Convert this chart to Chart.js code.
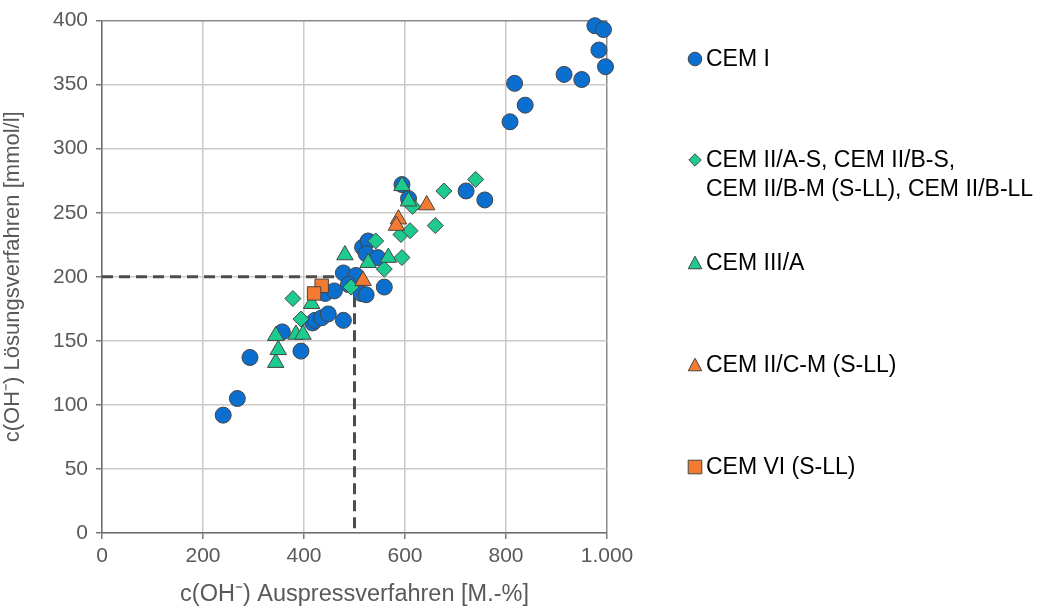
<!DOCTYPE html>
<html>
<head>
<meta charset="utf-8">
<script src="https://cdn.jsdelivr.net/npm/chart.js@4/dist/chart.umd.min.js"></script>
<style>
  html, body { margin: 0; padding: 0; background: #ffffff; }
  #wrap { position: relative; width: 1045px; height: 609px; }
</style>
</head>
<body>
<div id="wrap"><canvas id="c" width="1045" height="609"></canvas></div>
<script>
// Hydroxide concentration: press-extraction method (x) vs. leaching method (y)
const cemI = [
  [240, 92], [268, 105], [293, 137], [357, 157], [394, 142], [417, 164], [422, 166],
  [435, 168], [448, 171], [478, 166], [442, 187], [460, 189], [478, 203], [503, 201],
  [488, 194], [513, 187], [523, 186], [559, 192], [516, 223], [527, 228], [523, 218],
  [546, 215], [594, 272], [607, 261], [721, 267], [758, 260], [808, 321], [817, 351],
  [838, 334], [915, 358], [950, 354], [976, 396], [993, 393], [984, 377], [997, 364]
];
const cemII = [
  [378, 183], [394, 167], [493, 192], [542, 228], [559, 206], [594, 215], [592, 233],
  [610, 236], [615, 255], [660, 240], [677, 267], [740, 276]
];
const cemIII = [
  [344, 133], [349, 143], [344, 154], [384, 155], [398, 155], [415, 179], [481, 217],
  [527, 211], [567, 215], [594, 271], [607, 259]
];
const cemIIC = [[517, 197], [587, 245], [583, 240], [643, 256]];
const cemVI = [[435, 193], [420, 187]];

// Reading example: 500 M.-% corresponds to 200 mmol/l
const guide = [[0, 200], [500, 200], [500, 0]];

const xTicks = [0, 200, 400, 600, 800, 1000];
const yTicks = [0, 50, 100, 150, 200, 250, 300, 350, 400];

const seriesNames = [
  ['CEM I'],
  ['CEM II/A-S, CEM II/B-S,', 'CEM II/B-M (S-LL), CEM II/B-LL'],
  ['CEM III/A'],
  ['CEM II/C-M (S-LL)'],
  ['CEM VI (S-LL)']
];

const BLUE = '#0A6FCF';
const GREEN = '#1ECB8E';
const ORANGE = '#F47A32';
const EDGE = '#454545';
const FONT = "'Liberation Sans', Arial, sans-serif";

const toPts = arr => arr.map(p => ({ x: p[0], y: p[1] }));

const styles = [
  { shape: 'circle', color: BLUE, radius: 8 },
  { shape: 'rectRot', color: GREEN, radius: 8 },
  { shape: 'triangle', color: GREEN, radius: 9.5 },
  { shape: 'triangle', color: ORANGE, radius: 9.5 },
  { shape: 'rect', color: ORANGE, radius: 9.5 }
];
const seriesData = [cemI, cemII, cemIII, cemIIC, cemVI];

const datasets = seriesData.map((d, i) => ({
  label: seriesNames[i].join(' '),
  data: toPts(d),
  showLine: false,
  clip: false,
  pointStyle: styles[i].shape,
  pointRadius: styles[i].radius,
  pointHoverRadius: styles[i].radius,
  backgroundColor: styles[i].color,
  borderColor: EDGE,
  borderWidth: 1,
  order: 5 - i
}));

datasets.push({
  label: 'guide',
  data: toPts(guide),
  showLine: true,
  borderColor: '#4d4d4d',
  borderWidth: 3,
  borderDash: [11, 6],
  pointRadius: 0,
  fill: false,
  order: 10
});

// Legend drawn at the right of the plot, one block per series
const legendRows = [59, 160, 263, 365, 467];
function drawMarker(ctx, shape, x, y, r, color) {
  ctx.save();
  ctx.fillStyle = color;
  ctx.strokeStyle = EDGE;
  ctx.lineWidth = 1;
  ctx.beginPath();
  if (shape === 'circle') {
    ctx.arc(x, y, r, 0, Math.PI * 2);
  } else if (shape === 'rectRot') {
    ctx.moveTo(x, y - r); ctx.lineTo(x + r, y); ctx.lineTo(x, y + r); ctx.lineTo(x - r, y);
    ctx.closePath();
  } else if (shape === 'triangle') {
    ctx.moveTo(x, y - r); ctx.lineTo(x + r, y + r * 0.85); ctx.lineTo(x - r, y + r * 0.85);
    ctx.closePath();
  } else {
    ctx.rect(x - r, y - r, 2 * r, 2 * r);
  }
  ctx.fill();
  ctx.stroke();
  ctx.restore();
}
const sideLegend = {
  id: 'sideLegend',
  afterDraw(chart) {
    const ctx = chart.ctx;
    ctx.save();
    ctx.font = '23px ' + FONT;
    ctx.fillStyle = '#000000';
    ctx.textAlign = 'left';
    ctx.textBaseline = 'middle';
    seriesNames.forEach((lines, i) => {
      const y = legendRows[i];
      const s = styles[i];
      const r = s.shape === 'rectRot' ? 6.2 : 6.8;
      drawMarker(ctx, s.shape, 695, y, r, s.color);
      lines.forEach((t, k) => ctx.fillText(t, 706, y + 1 + k * 28.5));
    });
    ctx.restore();
  }
};

const fmtDE = v => String(v).replace(/\B(?=(\d{3})+(?!\d))/g, '.');

new Chart(document.getElementById('c'), {
  type: 'scatter',
  data: { datasets },
  options: {
    responsive: false,
    animation: false,
    events: [],
    layout: { padding: { top: 20, right: 438, left: 0, bottom: 0 } },
    plugins: { legend: { display: false }, tooltip: { enabled: false } },
    scales: {
      x: {
        type: 'linear',
        min: 0, max: 1000,
        afterBuildTicks: s => { s.ticks = xTicks.map(v => ({ value: v })); },
        afterFit: s => { s.height = 76; },
        ticks: {
          color: '#595959', font: { family: FONT, size: 21 }, padding: 5,
          callback: v => fmtDE(v), maxRotation: 0
        },
        grid: {
          color: c => (c.tick && c.tick.value === 1000) ? '#8a8a8a' : '#cdc9c5',
          lineWidth: 1.5,
          tickColor: '#7a7a7a', tickLength: 6
        },
        border: { color: '#6e6e6e', width: 1.5 },
        title: {
          display: true, text: 'c(OH⁻) Auspressverfahren [M.-%]',
          color: '#595959', font: { family: FONT, size: 23.5 }, padding: { top: 1, bottom: 0 }
        }
      },
      y: {
        type: 'linear',
        min: 0, max: 400,
        afterBuildTicks: s => { s.ticks = yTicks.map(v => ({ value: v })); },
        afterFit: s => { s.width = 102; },
        ticks: { color: '#595959', font: { family: FONT, size: 21 }, padding: 8 },
        grid: {
          color: c => (c.tick && c.tick.value === 400) ? '#8a8a8a' : '#cdc9c5',
          lineWidth: 1.5,
          tickColor: '#7a7a7a', tickLength: 6
        },
        border: { color: '#6e6e6e', width: 1.5 },
        title: {
          display: true, text: 'c(OH⁻) Lösungsverfahren [mmol/l]',
          color: '#595959', font: { family: FONT, size: 22 }, padding: { top: 0, bottom: 4 }
        }
      }
    }
  },
  plugins: [sideLegend]
});
</script>
</body>
</html>
